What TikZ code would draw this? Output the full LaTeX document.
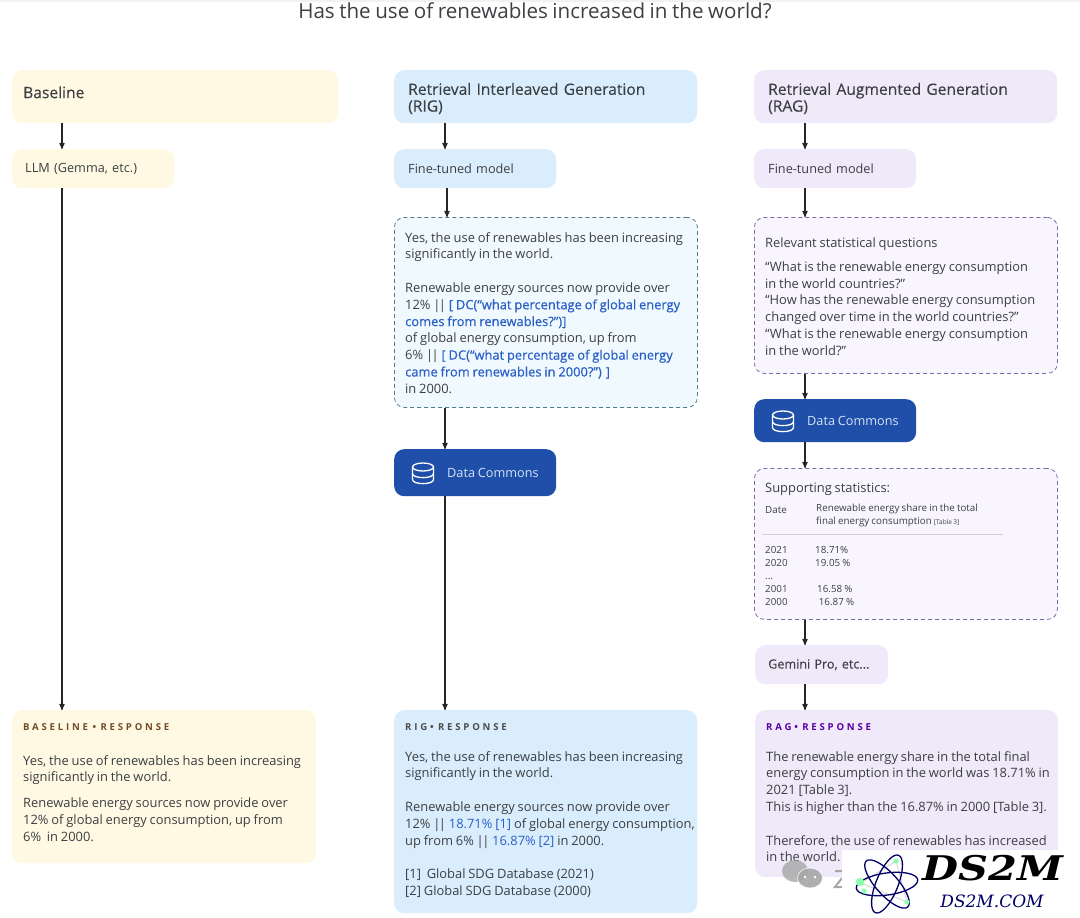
\documentclass[tikz,border=0pt]{standalone}
\usepackage{fontspec}
\usepackage{xcolor}
\usepackage{tikz}
\usetikzlibrary{arrows}
\usetikzlibrary{positioning}
\setmainfont[WordSpace=0.85]{Open Sans}
\newfontfamily\logofont{DejaVu Serif}
\definecolor{basefill}{HTML}{FFF9E3}
\definecolor{rigfill}{HTML}{DAEDFD}
\definecolor{ragfill}{HTML}{EFE9FA}
\definecolor{rigsoft}{HTML}{F0F9FE}
\definecolor{ragsoft}{HTML}{F8F5FD}
\definecolor{rigdash}{HTML}{4E7C8C}
\definecolor{ragdash}{HTML}{7A6BB0}
\definecolor{dcfill}{HTML}{1F4FA8}
\definecolor{dctext}{HTML}{D3E2F8}
\definecolor{inktext}{HTML}{3C4043}
\definecolor{linktext}{HTML}{2B5FC7}
\newcommand{\lnk}[1]{\textcolor{linktext}{#1}}
\newcommand{\lnkb}[1]{{\addfontfeatures{FakeBold=0.5}\color{linktext}#1}}
\newcommand{\bars}{|\kern-1.6pt|}
\newcommand{\headstrut}{\rule{0pt}{15.5pt}}
\newcommand{\capsfont}{\fontsize{9.6}{12}\selectfont\bfseries\addfontfeatures{LetterSpace=29}}
\newcommand{\medfont}{\addfontfeatures{FakeBold=0.2}}
\tikzset{
    card/.style = {align=left, inner ysep=0pt, rounded corners=10pt, anchor=north west, text=inktext},
    headbox/.style = {card, inner xsep=14pt, font=\fontsize{15.6}{16.8}\selectfont\medfont},
    stepbox/.style = {card, inner xsep=14pt, font=\fontsize{12.7}{16}\selectfont},
    dashbox/.style = {card, dashed, dash pattern=on 4pt off 3pt, line width=0.8pt},
    dcbox/.style = {card, fill=dcfill, text=dctext},
    dclabel/.style = {inner sep=0pt, text=dctext, font=\fontsize{12.7}{16}\selectfont},
    respbox/.style = {card},
    body/.style = {align=left, inner sep=0pt, text=inktext, font=\fontsize{12.9}{16.8}\selectfont, execute at begin node=\strut},
    small/.style = {align=left, inner sep=0pt, text=inktext, anchor=north west, font=\fontsize{9.8}{13}\selectfont, execute at begin node=\strut},
    capt/.style = {align=left, inner sep=0pt, font=\capsfont},
    flow/.style = {->, >=stealth', line width=1.2pt, black!85}
}
\tikzset{
    dbicon/.pic = {
        \draw[white, line width=1.3pt] (0,-6) ellipse[x radius=10.5, y radius=4];
        \draw[white, line width=1.3pt] (-10.5,-6) -- (-10.5,6.5) .. controls (-10.5,12) and (10.5,12) .. (10.5,6.5) -- (10.5,-6);
        \draw[white, line width=1.3pt] (-10.5,0.5) .. controls (-10.5,6) and (10.5,6) .. (10.5,0.5);
    }
}
\begin{document}
\begin{tikzpicture}[x=1pt, y=-1pt]
    \useasboundingbox (0,0) rectangle (1080,918);
    \fill[black!5] (0,0) rectangle (1080,2);

    \node[inner sep=0pt, text=inktext, font=\fontsize{20.6}{24}\selectfont] (question) at (535,11) {Has the use of renewables increased in the world?};

    \node[headbox, fill=basefill, text width=304pt, minimum height=53pt, text depth=9pt, inner xsep=11pt] (basehead) at (12,70) {Baseline};
    \node[stepbox, fill=basefill, text width=136pt, minimum height=39pt, inner xsep=13pt] (llm) at (12,149) {LLM (Gemma, etc.)};
    \node[respbox, fill=basefill, minimum width=304pt, minimum height=153pt] (baseresp) at (12,710) {};
    \node[capt, text=brown!60!black, below right=13pt and 11pt of baseresp.north west] (basecap) {BASELINE • RESPONSE};
    \node[body, below right=45pt and 11pt of baseresp.north west] (basetext) {Yes, the use of renewables has been increasing\\significantly in the world.\\[9pt]Renewable energy sources now provide over\\12\% of global energy consumption, up from\\6\%\ \ in 2000.};

    \node[headbox, fill=rigfill, text width=275pt, minimum height=53pt] (righead) at (394,70) {\headstrut Retrieval Interleaved Generation\\(RIG)};
    \node[stepbox, fill=rigfill, text width=134pt, minimum height=39pt] (rigmodel) at (394,149) {Fine-tuned model};
    \node[dashbox, draw=rigdash, fill=rigsoft, minimum width=303pt, minimum height=190pt] (rigdraft) at (394,217) {};
    \node[body, below right=15pt and 11pt of rigdraft.north west] (rigtext) {Yes, the use of renewables has been increasing\\significantly in the world.\\[16.8pt]Renewable energy sources now provide over\\12\% \bars{} \lnkb{[ DC(“what percentage of global energy}\\\lnkb{comes from renewables?”)]}\\of global energy consumption, up from\\6\% \bars{} \lnkb{[ DC(“what percentage of global energy}\\\lnkb{came from renewables in 2000?”) ]}\\in 2000.};
    \node[dcbox, minimum width=162pt, minimum height=47pt] (rigdc) at (394,449) {};
    \node[dclabel, right=53pt of rigdc.west] (rigdclabel) {Data Commons};
    \pic at (423,473) {dbicon};
    \node[respbox, fill=rigfill, minimum width=303pt, minimum height=203pt] (rigresp) at (394,710) {};
    \node[capt, text=black!70, below right=13pt and 11pt of rigresp.north west] (rigcap) {RIG• RESPONSE};
    \node[body, below right=41pt and 11pt of rigresp.north west] (rigfinal) {Yes, the use of renewables has been increasing\\significantly in the world.\\[16.8pt]Renewable energy sources now provide over\\12\% \bars{} \lnk{18.71\% [1]} of global energy consumption,\\up from 6\% \bars{} \lnk{16.87\% [2]} in 2000.\\[16.8pt]{[1]}\ \ Global SDG Database (2021)\\{[2]} Global SDG Database (2000)};

    \node[headbox, fill=ragfill, text width=275pt, minimum height=53pt] (raghead) at (754,70) {\headstrut Retrieval Augmented Generation\\(RAG)};
    \node[stepbox, fill=ragfill, text width=134pt, minimum height=39pt] (ragmodel) at (754,149) {Fine-tuned model};
    \node[dashbox, draw=ragdash, fill=ragsoft, minimum width=303pt, minimum height=156pt] (ragquest) at (754,217) {};
    \node[body, below right=20pt and 11pt of ragquest.north west] (ragtext) {Relevant statistical questions\\[7.5pt]“What is the renewable energy consumption\\in the world countries?”\\“How has the renewable energy consumption\\changed over time in the world countries?”\\“What is the renewable energy consumption\\in the world?”};
    \node[dcbox, minimum width=162pt, minimum height=43pt] (ragdc) at (754,399) {};
    \node[dclabel, right=53pt of ragdc.west] (ragdclabel) {Data Commons};
    \pic at (783,421) {dbicon};
    \node[dashbox, draw=ragdash, fill=ragsoft, minimum width=303pt, minimum height=151pt] (ragstats) at (754,468) {};
    \node[body, below right=13pt and 11pt of ragstats.north west] (statstitle) {Supporting statistics:};
    \node[small] (statsdate) at (765,504) {Date};
    \node[small] (statshead) at (816,504) {Renewable energy share in the total\\final energy consumption {\fontsize{6.5}{8}\selectfont[Table 3]}};
    \node[small] (statsyears) at (765,546) {2021\\2020\\...\\2001\\2000};
    \node[small] (statsfirst) at (815,546) {18.71\%\\19.05 \%};
    \node[small] (statslast) at (817,585) {16.58 \%\\\,16.87 \%};
    \draw[black!18, line width=0.6pt] (762,534) -- (1003,534);
    \node[stepbox, fill=ragfill, font=\fontsize{12.6}{16}\selectfont\medfont, text width=107pt, minimum height=39pt, inner xsep=13pt] (gemini) at (755,645) {Gemini Pro, etc...};
    \node[respbox, fill=ragfill, minimum width=303pt, minimum height=167pt] (ragresp) at (755,710) {};
    \node[capt, text=violet!70!blue, below right=13pt and 11pt of ragresp.north west] (ragcap) {RAG• RESPONSE};
    \node[body, below right=41pt and 11pt of ragresp.north west] (ragfinal) {The renewable energy share in the total final\\energy consumption in the world was 18.71\% in\\2021 [Table 3].\\This is higher than the 16.87\% in 2000 [Table 3].\\[16.8pt]Therefore, the use of renewables has increased\\in the world.};

    \draw[flow] ([xshift=50pt]basehead.south west) -- ([xshift=50pt]llm.north west);
    \draw[flow] ([xshift=50pt]llm.south west) -- ([xshift=50pt]baseresp.north west);
    \draw[flow] ([xshift=51pt]righead.south west) -- ([xshift=51pt]rigmodel.north west);
    \draw[flow] ([xshift=53pt]rigmodel.south west) -- ([xshift=53pt]rigdraft.north west);
    \draw[flow] ([xshift=51pt]rigdraft.south west) -- ([xshift=51pt]rigdc.north west);
    \draw[flow] ([xshift=51pt]rigdc.south west) -- ([xshift=51pt]rigresp.north west);
    \draw[flow] ([xshift=51pt]raghead.south west) -- ([xshift=51pt]ragmodel.north west);
    \draw[flow] ([xshift=51pt]ragmodel.south west) -- ([xshift=51pt]ragquest.north west);
    \draw[flow] ([xshift=51pt]ragquest.south west) -- ([xshift=51pt]ragdc.north west);
    \draw[flow] ([xshift=51pt]ragdc.south west) -- ([xshift=51pt]ragstats.north west);
    \draw[flow] ([xshift=51pt]ragstats.south west) -- ([xshift=50pt]gemini.north west);
    \draw[flow] ([xshift=50pt]gemini.south west) -- ([xshift=50pt]ragresp.north west);

    \fill[black!35, opacity=0.8] (795,871) ellipse[x radius=13, y radius=11];
    \fill[black!35, draw=white, line width=0.6pt, opacity=0.9] (810,878) ellipse[x radius=12.5, y radius=10];
    \fill[white] (805,877) circle (1.4) (815,877) circle (1.4);
    \draw[black!35, line width=2pt] (835,871) -- (842,871) (842,878) -- (835,887) -- (842,887);
    \fill[white] (842,850) rectangle (1080,918);
    \draw[black!25, line width=0.5pt] (861,883) -- (896,861) -- (907,902) -- cycle;
    \foreach \tilt in {68,-48,8}
        \draw[blue!40!black, line width=1.3pt] (887,884) ellipse[x radius=31, y radius=11, rotate=\tilt];
    \fill[green!70!cyan!45] (860,882) circle (4.2) (864,891) circle (2.6) (896,861) circle (2.6) (907,902) circle (2.6);
    \node[inner sep=0pt, xscale=1.22, font=\logofont\bfseries\itshape\fontsize{34}{34}\selectfont] (logomark) at (993,868) {DS2M};
    \node[inner sep=0pt, text=blue!40!black, font=\logofont\itshape\fontsize{17}{17}\selectfont] (logosite) at (992,901) {DS2M.COM};
\end{tikzpicture}
\end{document}
